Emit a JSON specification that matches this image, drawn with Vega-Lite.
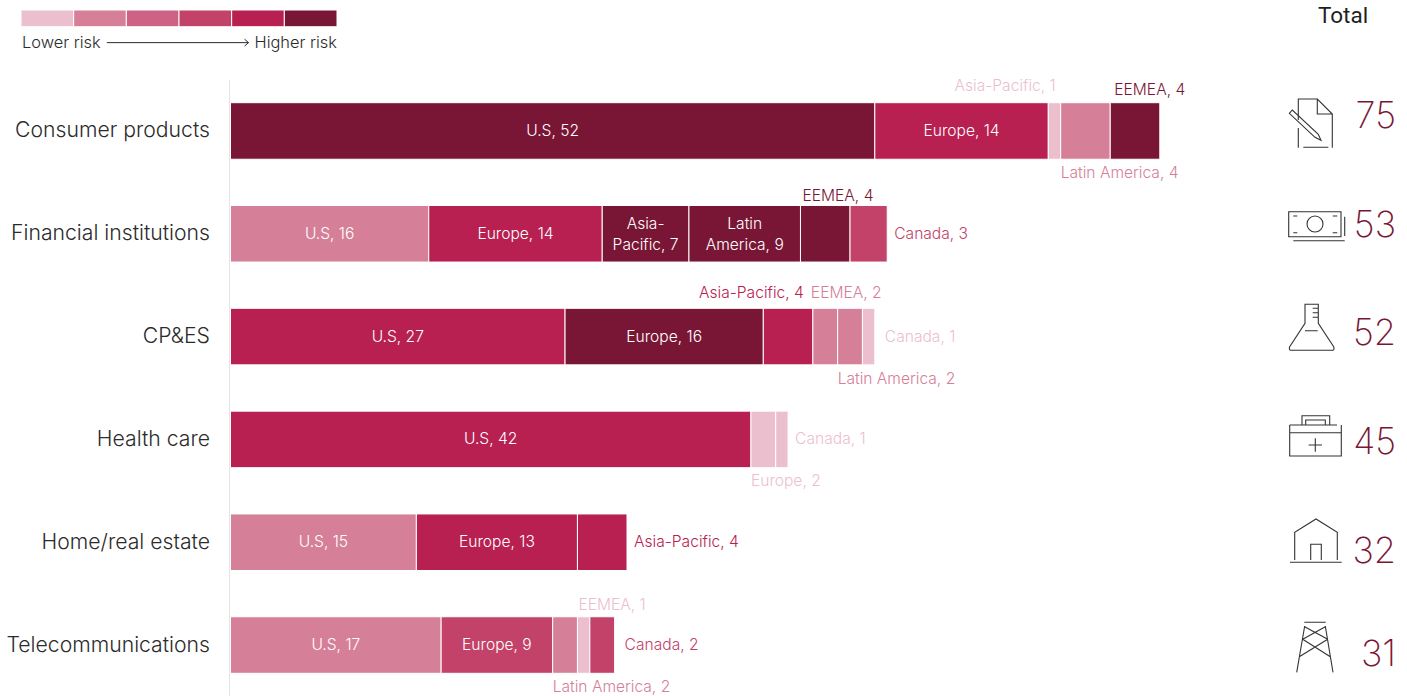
{
  "$schema": "https://vega.github.io/schema/vega-lite/v6.json",
  "autosize": {"type": "none"},
  "padding": {"left": 230.5, "top": 80, "right": 0, "bottom": 0},
  "width": 1176.5,
  "height": 616,
  "background": "white",
  "config": {
    "view": {"stroke": null},
    "font": "Inter",
    "text": {"font": "Inter", "fontWeight": 300}
  },
  "datasets": {
    "segments": [
      {"sector": "Consumer products", "seq": 1, "region": "U.S", "value": 52, "risk": "6", "label": "U.S, 52", "spot": "inside"},
      {"sector": "Consumer products", "seq": 2, "region": "Europe", "value": 14, "risk": "5", "label": "Europe, 14", "spot": "inside"},
      {"sector": "Consumer products", "seq": 3, "region": "Asia-Pacific", "value": 1, "risk": "1", "label": "Asia-Pacific, 1", "spot": "above"},
      {"sector": "Consumer products", "seq": 4, "region": "Latin America", "value": 4, "risk": "2", "label": "Latin America, 4", "spot": "below"},
      {"sector": "Consumer products", "seq": 5, "region": "EEMEA", "value": 4, "risk": "6", "label": "EEMEA, 4", "spot": "above"},
      {"sector": "Financial institutions", "seq": 1, "region": "U.S", "value": 16, "risk": "2", "label": "U.S, 16", "spot": "inside"},
      {"sector": "Financial institutions", "seq": 2, "region": "Europe", "value": 14, "risk": "5", "label": "Europe, 14", "spot": "inside"},
      {"sector": "Financial institutions", "seq": 3, "region": "Asia-Pacific", "value": 7, "risk": "6", "label": "Asia-\nPacific, 7", "spot": "insideTwoLines"},
      {"sector": "Financial institutions", "seq": 4, "region": "Latin America", "value": 9, "risk": "6", "label": "Latin\nAmerica, 9", "spot": "insideTwoLines"},
      {"sector": "Financial institutions", "seq": 5, "region": "EEMEA", "value": 4, "risk": "6", "label": "EEMEA, 4", "spot": "above"},
      {"sector": "Financial institutions", "seq": 6, "region": "Canada", "value": 3, "risk": "4", "label": "Canada, 3", "spot": "beside"},
      {"sector": "CP&ES", "seq": 1, "region": "U.S", "value": 27, "risk": "5", "label": "U.S, 27", "spot": "inside"},
      {"sector": "CP&ES", "seq": 2, "region": "Europe", "value": 16, "risk": "6", "label": "Europe, 16", "spot": "inside"},
      {"sector": "CP&ES", "seq": 3, "region": "Asia-Pacific", "value": 4, "risk": "5", "label": "Asia-Pacific, 4", "spot": "above"},
      {"sector": "CP&ES", "seq": 4, "region": "EEMEA", "value": 2, "risk": "2", "label": "EEMEA, 2", "spot": "above"},
      {"sector": "CP&ES", "seq": 5, "region": "Latin America", "value": 2, "risk": "2", "label": "Latin America, 2", "spot": "below"},
      {"sector": "CP&ES", "seq": 6, "region": "Canada", "value": 1, "risk": "1", "label": "Canada, 1", "spot": "beside"},
      {"sector": "Health care", "seq": 1, "region": "U.S", "value": 42, "risk": "5", "label": "U.S, 42", "spot": "inside"},
      {"sector": "Health care", "seq": 2, "region": "Europe", "value": 2, "risk": "1", "label": "Europe, 2", "spot": "below"},
      {"sector": "Health care", "seq": 3, "region": "Canada", "value": 1, "risk": "1", "label": "Canada, 1", "spot": "beside"},
      {"sector": "Home/real estate", "seq": 1, "region": "U.S", "value": 15, "risk": "2", "label": "U.S, 15", "spot": "inside"},
      {"sector": "Home/real estate", "seq": 2, "region": "Europe", "value": 13, "risk": "5", "label": "Europe, 13", "spot": "inside"},
      {"sector": "Home/real estate", "seq": 3, "region": "Asia-Pacific", "value": 4, "risk": "5", "label": "Asia-Pacific, 4", "spot": "beside"},
      {"sector": "Telecommunications", "seq": 1, "region": "U.S", "value": 17, "risk": "2", "label": "U.S, 17", "spot": "inside"},
      {"sector": "Telecommunications", "seq": 2, "region": "Europe", "value": 9, "risk": "4", "label": "Europe, 9", "spot": "inside"},
      {"sector": "Telecommunications", "seq": 3, "region": "Latin America", "value": 2, "risk": "2", "label": "Latin America, 2", "spot": "below"},
      {"sector": "Telecommunications", "seq": 4, "region": "EEMEA", "value": 1, "risk": "1", "label": "EEMEA, 1", "spot": "above"},
      {"sector": "Telecommunications", "seq": 5, "region": "Canada", "value": 2, "risk": "4", "label": "Canada, 2", "spot": "beside"}
    ],
    "totals": [
      {"sector": "Consumer products", "rank": 1, "total": 75},
      {"sector": "Financial institutions", "rank": 2, "total": 53},
      {"sector": "CP&ES", "rank": 3, "total": 52},
      {"sector": "Health care", "rank": 4, "total": 45},
      {"sector": "Home/real estate", "rank": 5, "total": 32},
      {"sector": "Telecommunications", "rank": 6, "total": 31}
    ],
    "riskKey": [
      {"risk": "1", "from": 0, "to": 1},
      {"risk": "2", "from": 1, "to": 2},
      {"risk": "3", "from": 2, "to": 3},
      {"risk": "4", "from": 3, "to": 4},
      {"risk": "5", "from": 4, "to": 5},
      {"risk": "6", "from": 5, "to": 6}
    ]
  },
  "layer": [
    {
      "data": {"name": "segments"},
      "transform": [
        {"stack": "value", "groupby": ["sector"], "sort": [{"field": "seq", "order": "ascending"}], "as": ["x0", "x1"]}
      ],
      "encoding": {
        "y": {
          "field": "sector",
          "type": "nominal",
          "title": null,
          "scale": {
            "domain": ["Consumer products", "Financial institutions", "CP&ES", "Health care", "Home/real estate", "Telecommunications"],
            "range": [22.7, 593.3],
            "paddingInner": 0.45,
            "paddingOuter": 0
          },
          "axis": {
            "domain": false,
            "ticks": false,
            "labelPadding": 21,
            "labelOffset": 0.5,
            "labelFont": "Inter",
            "labelFontWeight": 300,
            "labelFontSize": 21.2,
            "labelColor": "#2b2b2b",
            "labelLimit": 230
          }
        }
      },
      "layer": [
        {
          "mark": {"type": "rect", "stroke": "white", "strokeWidth": 1},
          "encoding": {
            "x": {"field": "x0", "type": "quantitative", "axis": null, "scale": {"domain": [0, 94.95], "nice": false, "zero": false}},
            "x2": {"field": "x1"},
            "color": {
              "field": "risk",
              "type": "nominal",
              "legend": null,
              "scale": {"domain": ["1", "2", "3", "4", "5", "6"], "range": ["#ecbfcf", "#d58098", "#ce6285", "#c34269", "#b72050", "#7a1635"]}
            }
          }
        },
        {
          "transform": [
            {"filter": {"field": "spot", "equal": "inside"}},
            {"fold": ["x0", "x1"], "as": ["edge", "at"]}
          ],
          "mark": {"type": "text", "fontSize": 15.6, "color": "white"},
          "encoding": {
            "x": {"aggregate": "mean", "field": "at", "type": "quantitative"},
            "text": {"field": "label"}
          }
        },
        {
          "transform": [
            {"filter": {"field": "spot", "equal": "insideTwoLines"}},
            {"fold": ["x0", "x1"], "as": ["edge", "at"]}
          ],
          "mark": {"type": "text", "fontSize": 15.6, "color": "white", "lineBreak": "\n", "lineHeight": 20.5, "dy": -9.5},
          "encoding": {
            "x": {"aggregate": "mean", "field": "at", "type": "quantitative"},
            "text": {"field": "label"}
          }
        },
        {
          "transform": [{"filter": {"and": [{"field": "spot", "equal": "above"}, {"field": "sector", "equal": "Consumer products"}, {"field": "region", "equal": "Asia-Pacific"}]}}],
          "mark": {"type": "text", "fontSize": 15.6, "align": "right", "dx": -5, "dy": -45},
          "encoding": {"x": {"field": "x1", "type": "quantitative"}, "text": {"field": "label"}, "color": {"field": "risk", "type": "nominal"}}
        },
        {
          "transform": [{"filter": {"and": [{"field": "spot", "equal": "above"}, {"field": "sector", "equal": "Consumer products"}, {"field": "region", "equal": "EEMEA"}]}}],
          "mark": {"type": "text", "fontSize": 15.6, "align": "left", "dx": 4, "dy": -41},
          "encoding": {"x": {"field": "x0", "type": "quantitative"}, "text": {"field": "label"}, "color": {"field": "risk", "type": "nominal"}}
        },
        {
          "transform": [{"filter": {"and": [{"field": "spot", "equal": "above"}, {"field": "sector", "equal": "Financial institutions"}]}}],
          "mark": {"type": "text", "fontSize": 15.6, "align": "left", "dx": 2, "dy": -38},
          "encoding": {"x": {"field": "x0", "type": "quantitative"}, "text": {"field": "label"}, "color": {"field": "risk", "type": "nominal"}}
        },
        {
          "transform": [{"filter": {"and": [{"field": "spot", "equal": "above"}, {"field": "sector", "equal": "CP&ES"}, {"field": "region", "equal": "Asia-Pacific"}]}}],
          "mark": {"type": "text", "fontSize": 15.6, "align": "right", "dx": -9, "dy": -44},
          "encoding": {"x": {"field": "x1", "type": "quantitative"}, "text": {"field": "label"}, "color": {"field": "risk", "type": "nominal"}}
        },
        {
          "transform": [{"filter": {"and": [{"field": "spot", "equal": "above"}, {"field": "sector", "equal": "CP&ES"}, {"field": "region", "equal": "EEMEA"}]}}],
          "mark": {"type": "text", "fontSize": 15.6, "align": "left", "dx": -2, "dy": -44},
          "encoding": {"x": {"field": "x0", "type": "quantitative"}, "text": {"field": "label"}, "color": {"field": "risk", "type": "nominal"}}
        },
        {
          "transform": [{"filter": {"and": [{"field": "spot", "equal": "above"}, {"field": "sector", "equal": "Telecommunications"}]}}],
          "mark": {"type": "text", "fontSize": 15.6, "align": "left", "dx": 1, "dy": -40},
          "encoding": {"x": {"field": "x0", "type": "quantitative"}, "text": {"field": "label"}, "color": {"field": "risk", "type": "nominal"}}
        },
        {
          "transform": [{"filter": {"field": "spot", "equal": "below"}}],
          "mark": {"type": "text", "fontSize": 15.6, "align": "left", "dy": 42},
          "encoding": {"x": {"field": "x0", "type": "quantitative"}, "text": {"field": "label"}, "color": {"field": "risk", "type": "nominal"}}
        },
        {
          "transform": [{"filter": {"and": [{"field": "spot", "equal": "beside"}, {"field": "sector", "oneOf": ["Financial institutions", "Health care", "Home/real estate"]}]}}],
          "mark": {"type": "text", "fontSize": 15.6, "align": "left", "dx": 7},
          "encoding": {"x": {"field": "x1", "type": "quantitative"}, "text": {"field": "label"}, "color": {"field": "risk", "type": "nominal"}}
        },
        {
          "transform": [{"filter": {"and": [{"field": "spot", "equal": "beside"}, {"field": "sector", "oneOf": ["CP&ES", "Telecommunications"]}]}}],
          "mark": {"type": "text", "fontSize": 15.6, "align": "left", "dx": 10},
          "encoding": {"x": {"field": "x1", "type": "quantitative"}, "text": {"field": "label"}, "color": {"field": "risk", "type": "nominal"}}
        },
        {
          "transform": [{"filter": {"and": [{"field": "sector", "equal": "Consumer products"}, {"field": "seq", "equal": 1}]}}],
          "mark": {"type": "rule", "color": "#e4e4e4", "strokeWidth": 1},
          "encoding": {"x": {"datum": -0.08, "type": "quantitative"}, "y": null}
        }
      ]
    },
    {
      "data": {"name": "riskKey"},
      "encoding": {
        "x": {"type": "quantitative", "axis": null, "scale": {"domain": [0, 6], "range": [-209.5, 106.5], "nice": false, "zero": false}},
        "y": {"type": "nominal", "axis": null, "scale": {"domain": ["swatch", "caption"], "range": [-70, -29], "paddingInner": 0.31, "paddingOuter": 0}}
      },
      "layer": [
        {
          "mark": {"type": "rect", "stroke": "white", "strokeWidth": 1},
          "encoding": {
            "x": {"field": "from", "type": "quantitative", "axis": null, "scale": {"domain": [0, 6], "range": [-209.5, 106.5], "nice": false, "zero": false}},
            "x2": {"field": "to"},
            "y": {"datum": "swatch", "type": "nominal", "axis": null, "scale": {"domain": ["swatch", "caption"], "range": [-70, -29], "paddingInner": 0.31, "paddingOuter": 0}},
            "color": {"field": "risk", "type": "nominal"}
          }
        },
        {
          "transform": [{"filter": {"field": "risk", "equal": "1"}}],
          "mark": {"type": "text", "text": "Lower risk", "fontSize": 16.4, "fontWeight": 300, "align": "left", "color": "#2b2b2b", "dx": 1},
          "encoding": {"x": {"datum": 0, "type": "quantitative"}, "y": {"datum": "caption", "type": "nominal"}}
        },
        {
          "transform": [{"filter": {"field": "risk", "equal": "6"}}],
          "mark": {"type": "text", "text": "Higher risk", "fontSize": 16.4, "fontWeight": 300, "align": "right", "color": "#2b2b2b"},
          "encoding": {"x": {"datum": 6, "type": "quantitative"}, "y": {"datum": "caption", "type": "nominal"}}
        },
        {
          "transform": [{"filter": {"field": "risk", "equal": "1"}}],
          "mark": {"type": "rule", "color": "#2b2b2b", "strokeWidth": 1},
          "encoding": {"x": {"datum": 1.63, "type": "quantitative"}, "x2": {"datum": 4.32}, "y": {"datum": "caption", "type": "nominal"}}
        },
        {
          "transform": [{"filter": {"field": "risk", "equal": "1"}}],
          "mark": {"type": "point", "shape": "M-4 -3.5L0 0L-4 3.5", "size": 4, "filled": false, "color": "#2b2b2b", "strokeWidth": 1, "opacity": 1},
          "encoding": {"x": {"datum": 4.32, "type": "quantitative"}, "y": {"datum": "caption", "type": "nominal"}}
        }
      ]
    },
    {
      "data": {"name": "totals"},
      "encoding": {
        "x": {"type": "nominal", "axis": null, "scale": {"type": "point", "domain": ["icon", "total"], "range": [1084.5, 1164.5], "padding": 0}},
        "y": {"field": "rank", "type": "quantitative", "axis": null, "scale": {"domain": [0, 1, 2, 3, 4, 5, 6], "range": [-64, 35, 144, 252, 361, 470, 573], "nice": false, "zero": false}}
      },
      "layer": [
        {
          "mark": {"type": "point", "size": 4, "filled": false, "color": "#333333", "strokeWidth": 1.1, "opacity": 1},
          "encoding": {
            "x": {"datum": "icon", "type": "nominal", "axis": null, "scale": {"type": "point", "domain": ["icon", "total"], "range": [1084.5, 1164.5], "padding": 0}},
            "shape": {
              "field": "sector",
              "type": "nominal",
              "legend": null,
              "scale": {
                "domain": ["Consumer products", "Financial institutions", "CP&ES", "Health care", "Home/real estate", "Telecommunications"],
                "range": [
                  "M-16.7 5L-16.7 -16L2.3 -16L17.3 -1L17.3 32.7M-16.7 13L-16.7 32.7M2.3 -16L2.3 -1L17.3 -1M-11.7 32.3L13.3 32.3M-25.7 -1.7L-22.7 -5L3.3 19.3L6 25.3L0 22.3Z",
                  "M-26.3 -12.3L26 -12.3L26 12.7L-26.3 12.7ZM29.7 -7.3L29.7 12M-21.7 16.7L29.7 16.7M-8 0A8 8 0 1 0 8 0A8 8 0 1 0 -8 0M-21.7 -8L-17.7 -8M17.7 -8L22.3 -8M-21.7 8.7L-17.7 8.7M17.7 8.7L22.3 8.7",
                  "M-10 -27.7L3.3 -27.7L3.3 -8.7L18.7 14.7Q20 18.3 16.7 18.3L-23.3 18.3Q-26.7 18.3 -25.3 14.7L-10 -8.7ZM-2.3 -23.7L3.3 -23.7M-2.3 -19.3L3.3 -19.3M-2.3 -14.7L3.3 -14.7M-10 -1.3L2.7 -1.3",
                  "M-25.3 -16L-25.3 15L26.3 15L26.3 -16M-25.3 -16L22 -16M-25.3 -8.3L26.3 -8.3M-13 -16L-13 -25.3L14.7 -25.3L14.7 -16M-9.3 -16L-9.3 -21L10.3 -21L10.3 -16M0.3 -2.7L0.3 10.7M-6.4 4L7 4",
                  "M-20.3 10L-20.3 -17.7L1 -31L22.3 -17.7L22.3 10M-25 12.3L26.7 12.3M-4.3 10L-4.3 -5.7L6.3 -5.7L6.3 10",
                  "M-10.7 -30.7L10.7 -30.7M-10.3 -27L-18.3 19.3M10.3 -27L18 19.3M-10.3 -26.3L12.7 -13.7M10.3 -26.3L-12.3 -13.7M-12.3 -13.7L15.3 3.7M12.7 -13.7L-15.7 3.7"
                ]
              }
            }
          }
        },
        {
          "mark": {"type": "text", "align": "right", "fontSize": 36, "fontWeight": 200, "color": "#7a1635", "dy": 2, "dx": 1},
          "encoding": {"x": {"datum": "total", "type": "nominal"}, "text": {"field": "total"}}
        },
        {
          "transform": [{"filter": {"field": "rank", "equal": 1}}],
          "mark": {"type": "text", "text": "Total", "font": "Roboto", "fontSize": 22.5, "fontWeight": 400, "align": "center", "color": "#1f1f1f", "dx": -52},
          "encoding": {"x": {"datum": "total", "type": "nominal"}, "y": {"datum": 0, "type": "quantitative"}}
        }
      ]
    }
  ],
  "resolve": {"scale": {"x": "independent", "y": "independent", "color": "shared"}}
}
